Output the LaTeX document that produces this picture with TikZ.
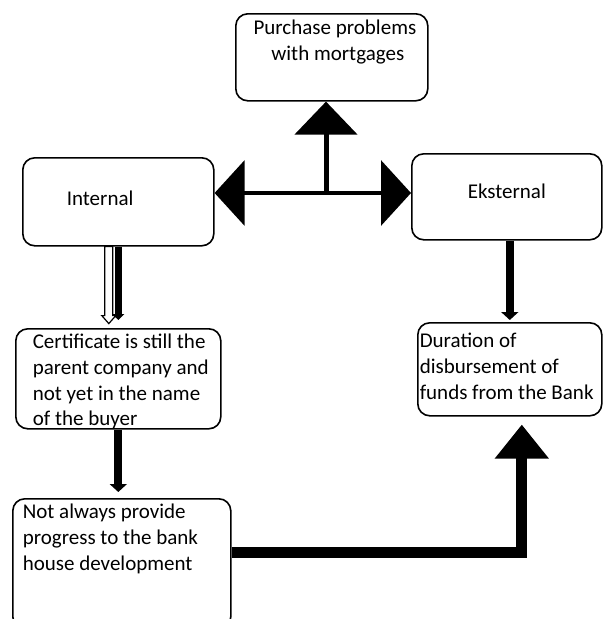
\documentclass[tikz,border=0pt]{standalone}
\usepackage{fontspec}
\setmainfont{Carlito}
\usetikzlibrary{arrows.meta}

% width, height, left pad, first baseline, text
\newcommand{\boxtext}[5]{\parbox[c][#2][t]{#1}{\raggedright\leftskip=#3\relax\rule{0pt}{#4}#5}}
\newcommand{\boxmid}[5]{\parbox[c][#2][t]{#1}{\leftskip=#3 plus 1fil\rightskip=0pt plus 1fil\parfillskip=0pt\relax\rule{0pt}{#4}#5}}

\begin{document}
\begin{tikzpicture}[x=1pt, y=-1pt,
    box/.style={draw, line width=1.6pt, rounded corners=12pt, inner sep=0pt,
                anchor=north west, font=\fontsize{21}{25.7}\selectfont},
    smalltip/.style={line width=8pt, -{Triangle[length=8pt,width=17pt]}},
    sidetips/.style={line width=3.5pt, {Triangle[length=30pt,width=65pt]}-{Triangle[length=30pt,width=65pt]}}]
    \useasboundingbox (0,0) rectangle (603,619);
    \clip (0,0) rectangle (603,619);

    \node[box] (purchase) at (235,13) {\boxmid{192pt}{87pt}{12pt}{21pt}{Purchase problems\\with mortgages}};
    \node[box] (internal) at (22,157) {\boxtext{191pt}{88pt}{44pt}{48pt}{Internal}};
    \node[box] (eksternal) at (411,153) {\boxmid{190pt}{86pt}{0pt}{45pt}{Eksternal}};
    \node[box] (duration) at (417,322) {\boxtext{184pt}{93pt}{2pt}{25pt}{Duration of\\disbursement of\\funds from the Bank}};
    \node[box] (certificate) at (15,328) {\boxtext{205pt}{100pt}{17pt}{20pt}{Certificate is still the\\parent company and\\not yet in the name\\of the buyer}};
    \node[box] (notalways) at (12,498) {\boxtext{218pt}{130pt}{10pt}{20pt}{Not always provide\\progress to the bank\\house development}};

    \coordinate (hub) at (326,193);
    \draw[sidetips] (internal.east |- hub) -- (eksternal.west |- hub);
    \draw[line width=5pt, -{Triangle[length=33pt,width=62pt]}] (hub) -- (purchase.south -| hub);

    % hollow arrow with its shadow
    \draw[line width=7pt, -{Triangle[length=6pt,width=12pt]}, shorten >=8pt] (internal.south) -- (certificate.north);
    \draw[fill=white, line width=1.2pt, line join=miter]
        ([xshift=-13.5pt]internal.south) -- ++(0,69) -- ++(-3,0) -- ++(7,8) -- ++(7,-8)
        -- ++(-3,0) -- ++(0,-69) -- cycle;

    \draw[smalltip, shorten >=2pt] (eksternal.south -| duration.north) -- (duration.north);
    \draw[smalltip, shorten >=6pt] (certificate.south) -- (notalways.north -| certificate.south);

    \draw[line width=11pt, -{Triangle[length=34pt,width=52pt]}, shorten >=8pt]
        ([yshift=11pt]notalways.east) -| ([xshift=12pt]duration.south);
\end{tikzpicture}
\end{document}
